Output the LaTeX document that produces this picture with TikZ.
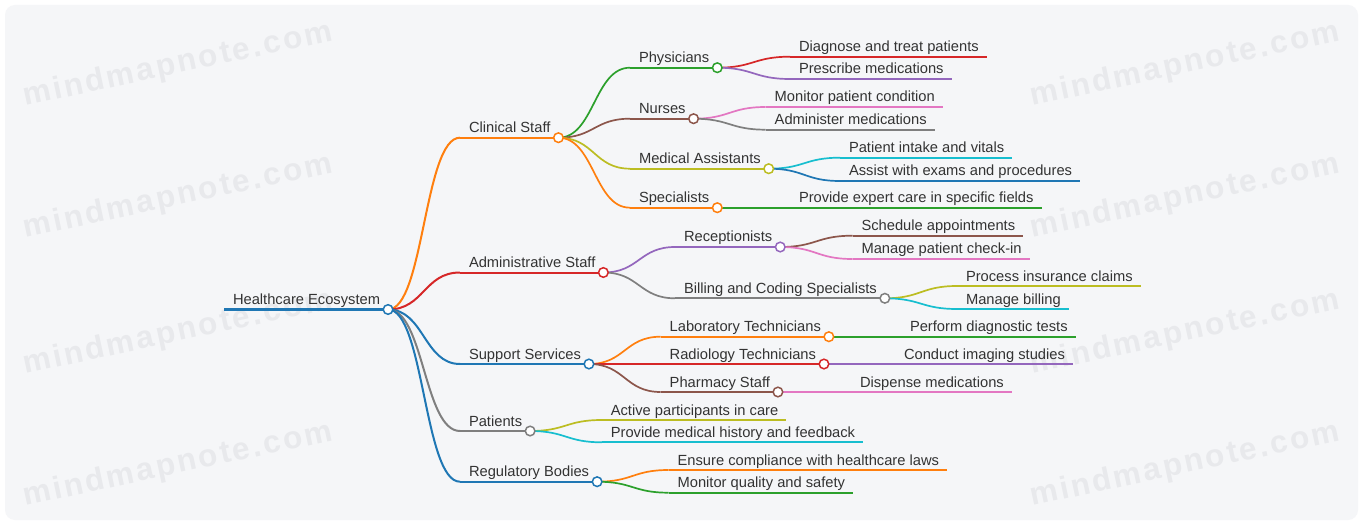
\documentclass[tikz,border=0pt]{standalone}
\usepackage{fontspec}
\setmainfont{Liberation Sans}
\usetikzlibrary{calc}

% category palette
\definecolor{cBlue}{HTML}{1F77B4}
\definecolor{cOrange}{HTML}{FF7F0E}
\definecolor{cGreen}{HTML}{2CA02C}
\definecolor{cRed}{HTML}{D62728}
\definecolor{cPurple}{HTML}{9467BD}
\definecolor{cBrown}{HTML}{8C564B}
\definecolor{cPink}{HTML}{E377C2}
\definecolor{cGrey}{HTML}{7F7F7F}
\definecolor{cOlive}{HTML}{BCBD22}
\definecolor{cCyan}{HTML}{17BECF}
\definecolor{txt}{HTML}{333333}
\definecolor{panel}{HTML}{F5F6F8}
\definecolor{mark}{HTML}{E8E9EC}

% a topic: name, line start x, line y, label
\newcommand{\topic}[4]{%
  \node[lbl] (#1) at (#2+9,#3-5) {#4};
  \coordinate (#1-s) at (#2,#3);
  \coordinate (#1-e) at ($(#1.base east)+(8,5)$);
}
% the curved link from a parent's dot to a child's line
\newcommand{\mmlink}[4]{%
  \path ($(#1-e)!0.5!(#2-s)$) coordinate (mid);
  \draw[#3, line width=#4] (#1-e) .. controls (mid |- #1-e) and (mid |- #2-s) .. (#2-s);
}
% the line under a topic
\newcommand{\stem}[3]{\draw[#2, line width=#3] (#1-s) -- (#1-e);}
% the open dot closing a topic with children
\newcommand{\knob}[2]{\node[dot, draw=#2] (#1-dot) at (#1-e) {};}

\begin{document}
\begin{tikzpicture}[x=1pt, y=-1pt,
  lbl/.style={anchor=base west, inner sep=0pt, outer sep=0pt, text=txt,
    font=\fontsize{14.7}{17}\selectfont},
  dot/.style={circle, fill=white, line width=1.5pt, minimum size=9.6pt, inner sep=0pt},
  wm/.style={text=mark, rotate=12, inner sep=0pt,
    font=\fontsize{31.5}{34}\selectfont\bfseries\addfontfeature{LetterSpace=8}},
  line cap=butt]

\useasboundingbox (0,0) rectangle (1359,521);
\fill[white] (0,0) rectangle (1359,521);
\fill[panel, rounded corners=10pt] (5,5) rectangle (1358,520);

% watermark grid
\foreach \wy [count=\i] in {65,197,333,465}{
  \node[wm] (wmL\i) at (178,\wy) {mindmapnote.com};
  \node[wm] (wmR\i) at (1185,\wy) {mindmapnote.com};
}

% ---- topics ----
\topic{root}{224}{309.5}{Healthcare Ecosystem}

\topic{clin}{460}{137.7}{Clinical Staff}
\topic{admin}{460}{272.5}{Administrative Staff}
\topic{supp}{460}{364}{Support Services}
\topic{pat}{460}{431}{Patients}
\topic{reg}{460}{481.7}{Regulatory Bodies}

\topic{phys}{630}{67.7}{Physicians}
\topic{nurse}{630}{118.7}{Nurses}
\topic{medas}{630}{168.7}{Medical Assistants}
\topic{spec}{630}{207.7}{Specialists}

\topic{diag}{790}{56.7}{Diagnose and treat patients}
\topic{presc}{790}{79}{Prescribe medications}
\topic{monit}{765.7}{107}{Monitor patient condition}
\topic{admed}{765.7}{129.7}{Administer medications}
\topic{intake}{840}{157.7}{Patient intake and vitals}
\topic{assist}{840}{181}{Assist with exams and procedures}
\topic{expert}{790}{207.7}{Provide expert care in specific fields}

\topic{recep}{675}{247}{Receptionists}
\topic{bill}{675}{298.3}{Billing and Coding Specialists}
\topic{sched}{852.5}{235.7}{Schedule appointments}
\topic{check}{852.5}{259}{Manage patient check-in}
\topic{claims}{957}{286}{Process insurance claims}
\topic{mbill}{957}{309}{Manage billing}

\topic{lab}{660.7}{336.7}{Laboratory Technicians}
\topic{radio}{660.7}{364}{Radiology Technicians}
\topic{pharm}{660.7}{392}{Pharmacy Staff}
\topic{perf}{901}{336.7}{Perform diagnostic tests}
\topic{imag}{895}{364}{Conduct imaging studies}
\topic{disp}{851}{392}{Dispense medications}

\topic{active}{601.8}{420}{Active participants in care}
\topic{hist}{601.8}{442.3}{Provide medical history and feedback}

\topic{ensure}{668.6}{470}{Ensure compliance with healthcare laws}
\topic{qual}{668.6}{492.7}{Monitor quality and safety}

% ---- links ----
\mmlink{root}{clin}{cOrange}{2pt}
\mmlink{root}{admin}{cRed}{2pt}
\mmlink{root}{supp}{cBlue}{2pt}
\mmlink{root}{pat}{cGrey}{2pt}
\mmlink{root}{reg}{cBlue}{2pt}

\mmlink{clin}{phys}{cGreen}{1.7pt}
\mmlink{clin}{nurse}{cBrown}{1.7pt}
\mmlink{clin}{medas}{cOlive}{1.7pt}
\mmlink{clin}{spec}{cOrange}{1.7pt}
\mmlink{phys}{diag}{cRed}{1.7pt}
\mmlink{phys}{presc}{cPurple}{1.7pt}
\mmlink{nurse}{monit}{cPink}{1.7pt}
\mmlink{nurse}{admed}{cGrey}{1.7pt}
\mmlink{medas}{intake}{cCyan}{1.7pt}
\mmlink{medas}{assist}{cBlue}{1.7pt}
\mmlink{spec}{expert}{cGreen}{1.7pt}

\mmlink{admin}{recep}{cPurple}{1.7pt}
\mmlink{admin}{bill}{cGrey}{1.7pt}
\mmlink{recep}{sched}{cBrown}{1.7pt}
\mmlink{recep}{check}{cPink}{1.7pt}
\mmlink{bill}{claims}{cOlive}{1.7pt}
\mmlink{bill}{mbill}{cCyan}{1.7pt}

\mmlink{supp}{lab}{cOrange}{1.7pt}
\mmlink{supp}{radio}{cRed}{1.7pt}
\mmlink{supp}{pharm}{cBrown}{1.7pt}
\mmlink{lab}{perf}{cGreen}{1.7pt}
\mmlink{radio}{imag}{cPurple}{1.7pt}
\mmlink{pharm}{disp}{cPink}{1.7pt}

\mmlink{pat}{active}{cOlive}{1.7pt}
\mmlink{pat}{hist}{cCyan}{1.7pt}
\mmlink{reg}{ensure}{cOrange}{1.7pt}
\mmlink{reg}{qual}{cGreen}{1.7pt}

% ---- lines under the labels ----
\stem{root}{cBlue}{3.5pt}
\stem{clin}{cOrange}{2pt}
\stem{admin}{cRed}{2pt}
\stem{supp}{cBlue}{2pt}
\stem{pat}{cGrey}{2pt}
\stem{reg}{cBlue}{2pt}
\stem{phys}{cGreen}{1.7pt}
\stem{nurse}{cBrown}{1.7pt}
\stem{medas}{cOlive}{1.7pt}
\stem{spec}{cOrange}{1.7pt}
\stem{diag}{cRed}{1.7pt}
\stem{presc}{cPurple}{1.7pt}
\stem{monit}{cPink}{1.7pt}
\stem{admed}{cGrey}{1.7pt}
\stem{intake}{cCyan}{1.7pt}
\stem{assist}{cBlue}{1.7pt}
\stem{expert}{cGreen}{1.7pt}
\stem{recep}{cPurple}{1.7pt}
\stem{bill}{cGrey}{1.7pt}
\stem{sched}{cBrown}{1.7pt}
\stem{check}{cPink}{1.7pt}
\stem{claims}{cOlive}{1.7pt}
\stem{mbill}{cCyan}{1.7pt}
\stem{lab}{cOrange}{1.7pt}
\stem{radio}{cRed}{1.7pt}
\stem{pharm}{cBrown}{1.7pt}
\stem{perf}{cGreen}{1.7pt}
\stem{imag}{cPurple}{1.7pt}
\stem{disp}{cPink}{1.7pt}
\stem{active}{cOlive}{1.7pt}
\stem{hist}{cCyan}{1.7pt}
\stem{ensure}{cOrange}{1.7pt}
\stem{qual}{cGreen}{1.7pt}

% ---- dots ----
\knob{root}{cBlue}
\knob{clin}{cOrange}
\knob{admin}{cRed}
\knob{supp}{cBlue}
\knob{pat}{cGrey}
\knob{reg}{cBlue}
\knob{phys}{cGreen}
\knob{nurse}{cBrown}
\knob{medas}{cOlive}
\knob{spec}{cOrange}
\knob{recep}{cPurple}
\knob{bill}{cGrey}
\knob{lab}{cOrange}
\knob{radio}{cRed}
\knob{pharm}{cBrown}

\end{tikzpicture}
\end{document}
